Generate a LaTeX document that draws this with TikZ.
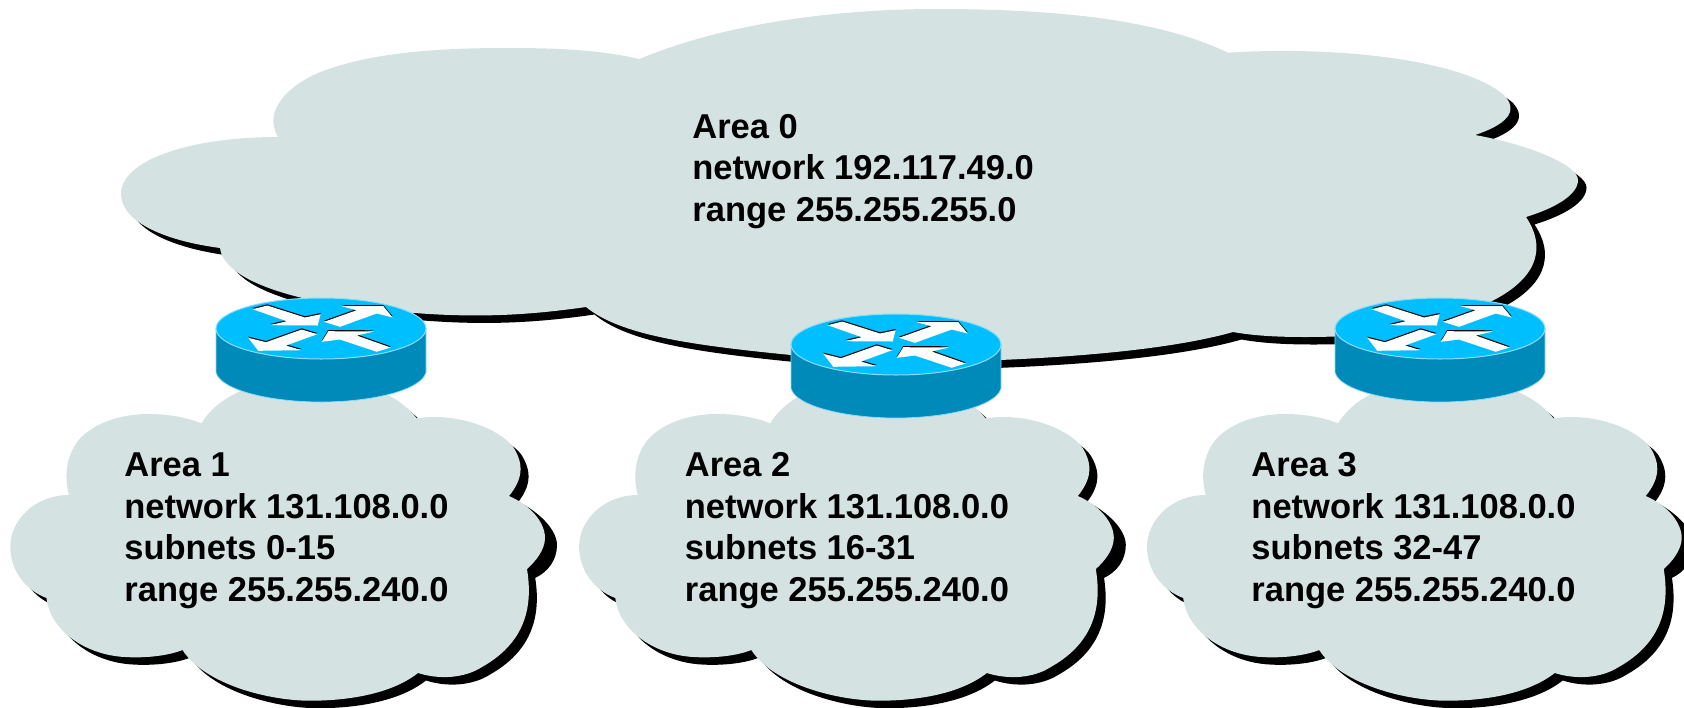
\documentclass[tikz,border=0pt]{standalone}
\usepackage{fontspec}
\setmainfont{Liberation Sans}
\definecolor{cloudfill}{RGB}{213,226,226}
\definecolor{routertop}{RGB}{0,191,255}
\definecolor{routerbody}{RGB}{0,138,186}
\definecolor{routeredge}{RGB}{140,220,250}
\def\bigcloud{(639.5,59) .. controls (720,25) and (830,9) .. (937,9)
 .. controls (1060,9) and (1160,20) .. (1228,52.7)
 .. controls (1330,46) and (1460,58) .. (1504,95)
 .. controls (1520,112) and (1505,125) .. (1475,135)
 .. controls (1530,145) and (1578,165) .. (1578,180)
 .. controls (1578,195) and (1555,208) .. (1526,217)
 .. controls (1548,250) and (1535,280) .. (1490,302)
 .. controls (1450,330) and (1370,337) .. (1305,337)
 .. controls (1280,337) and (1255,336) .. (1233,332)
 .. controls (1170,350) and (1070,357) .. (1000,360)
 .. controls (930,363) and (860,361) .. (791,355)
 .. controls (690,345) and (620,335) .. (586,307)
 .. controls (530,315) and (480,318) .. (415,313)
 .. controls (340,310) and (225,290) .. (220,248)
 .. controls (160,240) and (121,220) .. (121,194)
 .. controls (121,160) and (190,137) .. (278,137)
 .. controls (262,110) and (290,85) .. (318,73)
 .. controls (370,52) and (440,48) .. (507,48)
 .. controls (560,48) and (600,50) .. (639.5,59) -- cycle}
\def\smallcloud{(201.4,423.3) .. controls (225,385) and (280,378) .. (310,378)
 .. controls (350,378) and (395,390) .. (416.7,418.3)
 .. controls (460,412) and (500,430) .. (513,446.7)
 .. controls (525,465) and (522,480) .. (509,496)
 .. controls (530,505) and (545,522) .. (545,538)
 .. controls (545,550) and (535,562) .. (527,569)
 .. controls (532,600) and (530,640) .. (482,667)
 .. controls (465,678) and (440,680) .. (418,673)
 .. controls (390,695) and (345,700.7) .. (310,700.7)
 .. controls (270,700.7) and (205,685) .. (182.5,650)
 .. controls (165,657) and (140,658) .. (125,657)
 .. controls (85,655) and (50,630) .. (46.5,598)
 .. controls (25,590) and (10.3,570) .. (10.3,546.7)
 .. controls (10.3,520) and (35,495) .. (69,495)
 .. controls (62,470) and (70,445) .. (86,433)
 .. controls (105,418) and (130,414) .. (148,414)
 .. controls (170,414) and (188,418) .. (201.4,423.3) -- cycle}
\def\smalllobe{(515,500) .. controls (540,512) and (557,530) .. (557,545) .. controls (557,560) and (548,572) .. (535,578) -- cycle}
\def\arrowsA{(-68.3,-19.3) -- (-53.7,-23) -- (-16,-11) -- (-0.3,-14.3) -- (-3.3,-3) -- (-51,-3.3) -- (-34.3,-7.3) -- cycle}
\def\arrowsB{(3,-6.7) -- (35.7,-18.3) -- (20.7,-22.3) -- (62.3,-22.3) -- (71.7,-11) -- (55.7,-15) -- (19,-1.7) -- cycle}
\def\arrowsC{(-72.7,9.3) -- (-55,13.7) -- (-19.3,1) -- (-3.7,5.7) -- (-35,17) -- (-19.3,21.7) -- (-62.7,22.3) -- cycle}
\def\arrowsD{(0.7,13.3) -- (7.3,2.7) -- (53,3) -- (35.7,7) -- (69.7,19) -- (55.7,23.3) -- (19,11) -- cycle}
\tikzset{
 cloudshape/.style={fill=cloudfill},
 cloudshadow/.style={fill=black},
 arealabel/.style={anchor=base west,inner sep=0pt,align=left,font=\fontsize{17.25}{20.9}\selectfont\bfseries,text=black},
 routerside/.style={fill=routerbody,draw=routeredge,line width=0.35pt},
 routerface/.style={fill=routertop,draw=routeredge,line width=0.5pt},
 routerpic/.pic={
  \path[routerside] (-105,0) -- (-105,44) .. controls (-100,62) and (-50,73.5) .. (0,73.5) .. controls (50,73.5) and (100,62) .. (105,44) -- (105,0) -- cycle;
  \path[routerface] (0,0) ellipse [x radius=105,y radius=30.5];
  \foreach \a in {\arrowsA,\arrowsB,\arrowsC,\arrowsD}{
   \fill[black,yshift=0.6pt] \a;
   \fill[white] \a;
  }
 },
 areacloud/.pic={
  \fill[cloudshadow,shift={(8,7.5)}] \smallcloud;
  \fill[cloudshadow] \smalllobe;
  \fill[cloudshape] \smallcloud;
 }
}
\begin{document}
\begin{tikzpicture}[x=0.5pt,y=-0.5pt]
\clip (0,0) rectangle (1684,707);
\fill[cloudshadow,shift={(8.5,7.5)}] \bigcloud;
\fill[cloudshape] \bigcloud;
\pic at (0,0) {areacloud};
\pic at (568.8,0) {areacloud};
\pic at (1136.7,0) {areacloud};
\pic at (321,328.5) {routerpic};
\pic at (896,344.5) {routerpic};
\pic at (1440,328.5) {routerpic};
\node[arealabel] (area0) at (692,221.7) {Area 0\\network 192.117.49.0\\range 255.255.255.0};
\node[arealabel] (area1) at (124,601.7) {Area 1\\network 131.108.0.0\\subnets 0-15\\range 255.255.240.0};
\node[arealabel] (area2) at (684.5,601.7) {Area 2\\network 131.108.0.0\\subnets 16-31\\range 255.255.240.0};
\node[arealabel] (area3) at (1251,601.7) {Area 3\\network 131.108.0.0\\subnets 32-47\\range 255.255.240.0};
\end{tikzpicture}
\end{document}
